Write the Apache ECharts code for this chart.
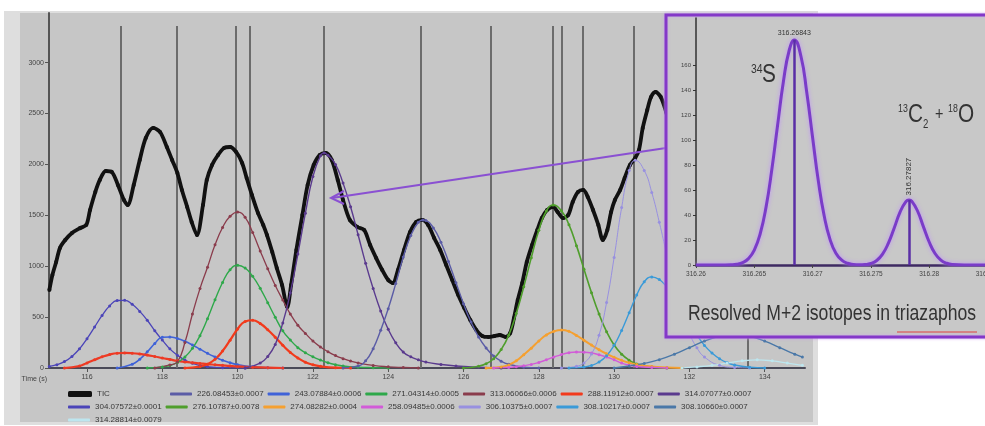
<!DOCTYPE html>
<html><head><meta charset="utf-8">
<script src="https://cdn.jsdelivr.net/npm/echarts@6/dist/echarts.min.js"></script>
<style>html,body{margin:0;padding:0;background:#fff}#c{width:985px;height:426px}</style>
</head><body><div id="c"></div>
<script>
// ---------- main chromatogram ----------
const xTicks = [116,118,120,122,124,126,128,130,132,134];
const yTicks = [0,500,1000,1500,2000,2500,3000];
const markerTimes = [116.9,118.38,119.95,120.31,122.29,124.87,126.73,128.38,128.62,129.16,130.52,133.56];
const markerTop = 3360;

const tic = [[115.0,766],[115.08,913],[115.18,1041],[115.28,1179],[115.42,1257],[115.6,1326],[115.82,1375],[115.98,1405],[116.08,1552],[116.22,1729],[116.34,1847],[116.5,1935],[116.66,1925],[116.82,1798],[116.98,1650],[117.08,1601],[117.24,1798],[117.4,2043],[117.56,2259],[117.76,2358],[117.94,2318],[118.12,2171],[118.26,2043],[118.4,1915],[118.52,1749],[118.66,1582],[118.78,1434],[118.92,1306],[119.08,1601],[119.18,1847],[119.32,1994],[119.48,2092],[119.64,2161],[119.8,2171],[119.96,2122],[120.12,2014],[120.24,1866],[120.38,1699],[120.54,1523],[120.68,1405],[120.78,1306],[120.92,1139],[121.04,982],[121.18,815],[121.32,599],[121.42,815],[121.56,1159],[121.72,1503],[121.86,1798],[122.02,1994],[122.18,2092],[122.34,2112],[122.5,2043],[122.66,1847],[122.8,1650],[122.98,1454],[123.18,1385],[123.36,1356],[123.52,1208],[123.68,1080],[123.84,963],[124.0,864],[124.12,835],[124.26,963],[124.42,1159],[124.58,1336],[124.74,1434],[124.9,1454],[125.06,1405],[125.22,1277],[125.38,1159],[125.54,1012],[125.7,864],[125.86,717],[126.02,589],[126.18,471],[126.34,373],[126.5,314],[126.66,305],[126.82,314],[126.96,324],[127.12,305],[127.24,344],[127.34,491],[127.44,668],[127.56,835],[127.68,1041],[127.82,1208],[127.96,1356],[128.08,1473],[128.22,1552],[128.38,1582],[128.5,1532],[128.64,1473],[128.78,1503],[128.9,1631],[129.04,1729],[129.18,1749],[129.3,1680],[129.44,1552],[129.58,1405],[129.7,1257],[129.82,1356],[129.92,1532],[130.02,1650],[130.16,1749],[130.28,1866],[130.42,1994],[130.56,2063],[130.66,2141],[130.76,2358],[130.88,2534],[130.98,2662],[131.1,2711],[131.24,2662],[131.38,2515],[131.6,2200],[132.0,1650],[132.4,1000],[132.6,700]];

const c304 = [[115.0,15],[115.2,32],[115.4,63],[115.6,114],[115.8,188],[116.0,288],[116.2,402],[116.4,516],[116.6,610],[116.8,663],[117.0,665],[117.2,626],[117.4,556],[117.6,469],[117.8,366],[118.0,274],[118.2,188],[118.4,126],[118.6,78],[118.8,46],[119.0,25],[119.2,13],[119.6,3],[120.2,0]];
const c243 = [[116.8,0],[117.2,37],[117.4,86],[117.6,159],[117.8,241],[118.0,302],[118.2,304],[118.4,289],[118.6,262],[118.8,226],[119.0,185],[119.2,144],[119.4,108],[119.6,76],[119.8,52],[120.0,33],[120.4,12],[120.8,3],[121.2,0]];
const cMinor = [[115.4,0],[115.8,20],[116.0,49],[116.2,80],[116.4,110],[116.6,132],[116.8,145],[117.0,148],[117.2,145],[117.4,138],[117.6,127],[117.8,113],[118.0,98],[118.2,84],[118.4,70],[118.6,60],[118.8,52],[119.0,45],[119.2,38],[119.4,32],[119.6,26],[119.8,20],[120.0,15],[120.4,8],[120.8,3],[121.2,0]];
const c288 = [[118.6,0],[119.0,15],[119.2,38],[119.4,86],[119.6,167],[119.8,273],[120.0,383],[120.2,457],[120.4,469],[120.6,437],[120.8,376],[121.0,302],[121.2,223],[121.4,153],[121.6,98],[121.8,57],[122.0,31],[122.2,16],[122.6,3],[123.0,0]];
const c271 = [[117.6,0],[118.0,10],[118.2,24],[118.4,54],[118.6,107],[118.8,193],[119.0,318],[119.2,484],[119.4,670],[119.6,840],[119.8,965],[120.0,1010],[120.2,982],[120.4,900],[120.6,783],[120.8,642],[121.0,498],[121.2,365],[121.4,275],[121.6,200],[121.8,150],[122.0,110],[122.2,78],[122.4,52],[122.6,33],[122.8,20],[123.2,8],[123.6,3],[124.0,0]];
const c313 = [[117.8,0],[118.2,30],[118.4,60],[118.6,250],[118.8,530],[119.0,780],[119.2,990],[119.4,1210],[119.6,1380],[119.8,1490],[120.0,1532],[120.2,1480],[120.4,1330],[120.6,1150],[120.8,975],[121.0,810],[121.2,668],[121.4,530],[121.6,420],[121.8,340],[122.0,265],[122.2,206],[122.4,160],[122.6,122],[122.8,92],[123.0,68],[123.2,50],[123.6,25],[124.0,12],[124.4,5],[124.8,0]];
const c314a = [[120.2,0],[120.6,49],[120.8,112],[121.0,232],[121.2,443],[121.4,739],[121.6,1119],[121.8,1521],[122.0,1880],[122.2,2085],[122.3,2112],[122.4,2090],[122.6,2000],[122.8,1816],[123.0,1584],[123.2,1309],[123.4,1028],[123.6,781],[123.8,560],[124.0,380],[124.2,247],[124.4,156],[124.6,110],[124.8,80],[125.0,58],[125.4,35],[125.8,20],[126.4,8],[127.0,0]];
const c226 = [[122.8,0],[123.2,20],[123.4,70],[123.6,190],[123.8,372],[124.0,582],[124.2,829],[124.4,1090],[124.6,1301],[124.8,1432],[124.92,1454],[125.0,1450],[125.2,1376],[125.4,1236],[125.6,1047],[125.8,837],[126.0,632],[126.2,451],[126.4,305],[126.6,196],[126.8,118],[127.0,67],[127.2,37],[127.6,8],[128.0,0]];
const c276 = [[126.0,0],[126.4,18],[126.6,42],[126.8,91],[127.0,181],[127.2,321],[127.4,535],[127.6,797],[127.8,1084],[128.0,1352],[128.2,1542],[128.38,1600],[128.6,1544],[128.8,1408],[129.0,1202],[129.2,971],[129.4,739],[129.6,530],[129.8,357],[130.0,226],[130.2,136],[130.4,77],[130.6,40],[131.0,9],[131.4,0]];
const c274 = [[126.6,0],[127.0,10],[127.2,30],[127.4,70],[127.6,130],[127.8,195],[128.0,265],[128.2,325],[128.4,360],[128.6,373],[128.8,360],[129.0,320],[129.2,272],[129.4,225],[129.6,180],[129.8,140],[130.0,105],[130.2,75],[130.4,52],[130.6,35],[131.0,14],[131.4,5],[131.8,0]];
const c258 = [[126.8,0],[127.2,5],[127.4,12],[127.6,22],[127.8,35],[128.0,55],[128.2,80],[128.4,108],[128.6,132],[128.8,150],[129.0,157],[129.2,155],[129.4,147],[129.6,130],[129.8,108],[130.0,80],[130.2,48],[130.4,28],[130.6,15],[131.0,5],[131.4,0]];
const c306 = [[128.6,0],[129.0,17],[129.2,50],[129.4,138],[129.6,322],[129.8,643],[130.0,1086],[130.2,1576],[130.4,1940],[130.56,2040],[130.8,1940],[131.0,1724],[131.2,1432],[131.4,1112],[131.6,800],[131.8,540],[132.0,340],[132.2,198],[132.4,108],[132.8,26],[133.2,5],[133.6,0]];
const c308a = [[128.8,0],[129.2,10],[129.4,25],[129.6,59],[129.8,121],[130.0,223],[130.2,369],[130.4,543],[130.6,717],[130.8,847],[131.0,895],[131.2,869],[131.4,795],[131.6,694],[131.8,568],[132.0,441],[132.2,324],[132.4,222],[132.6,147],[132.8,91],[133.0,53],[133.2,29],[133.6,7],[134.0,0]];
const c308b = [[130.0,0],[130.4,20],[130.8,45],[131.2,82],[131.6,136],[132.0,200],[132.4,264],[132.8,312],[133.2,330],[133.6,312],[134.0,264],[134.4,200],[134.8,136],[135.0,107]];
const c31428 = [[131.8,0],[132.2,11],[132.6,26],[133.0,48],[133.4,70],[133.8,80],[134.2,70],[134.6,48],[135.0,26]];

const legendRow1 = ['226.08453±0.0007','243.07884±0.0006','271.04314±0.0005','313.06066±0.0006','288.11912±0.0007','314.07077±0.0007'];
const legendRow2 = ['304.07572±0.0001','276.10787±0.0078','274.08282±0.0004','258.09485±0.0006','306.10375±0.0007','308.10217±0.0007','308.10660±0.0007'];
const legendRow3 = ['314.28814±0.0079'];

// ---------- inset mass spectrum ----------
const insetXTicks = [316.26,316.265,316.27,316.275,316.28,316.285];
const insetYTicks = [0,20,40,60,80,100,120,140,160];
const insetProfile = [[316.2600,0],[316.2620,0],[316.2630,0.2],[316.2635,0.6],[316.2640,1.9],[316.2645,5.1],[316.2650,11.9],[316.2655,24.8],[316.2660,45.9],[316.2665,76.2],[316.2670,112],[316.2675,147],[316.2680,172],[316.26843,180],[316.2690,167],[316.2695,138],[316.2700,102],[316.2705,66.7],[316.2710,39],[316.2715,20.3],[316.2720,9.4],[316.2725,3.9],[316.2730,1.4],[316.2735,0.5],[316.2740,0.2],[316.2745,0.4],[316.2750,1.2],[316.2755,3.6],[316.2760,8.7],[316.2765,17.5],[316.2770,29.6],[316.2775,42.3],[316.2780,50.7],[316.27827,52],[316.2785,51.1],[316.2790,43.2],[316.2795,30.7],[316.2800,18.4],[316.2805,9.2],[316.2810,3.9],[316.2815,1.4],[316.2820,0.4],[316.2830,0],[316.2850,0]];
const insetPeakMz = [316.26843, 316.27827];
const insetPeakInt = [180, 52];
const insetPeakLabels = ['316.26843', '316.27827'];

// ---------- build ----------
const compSeries = [
  [c304, legendRow2[0], '#4b44b8', 1.3],
  [c243, legendRow1[1], '#3f62d8', 1.6],
  [cMinor, 'minor', '#ee3a24', 2.2],
  [c288, legendRow1[4], '#f23a1c', 2.2],
  [c271, legendRow1[2], '#2ea84a', 1.4],
  [c313, legendRow1[3], '#8a3c4c', 1.3],
  [c314a, legendRow1[5], '#5a3a8e', 1.4],
  [c226, legendRow1[0], '#5b5ca6', 1.4],
  [c276, legendRow2[1], '#4f9e2c', 1.6],
  [c274, legendRow2[2], '#f5a030', 2.0],
  [c258, legendRow2[3], '#d25bd8', 1.4],
  [c306, legendRow2[4], '#9890e0', 1.0],
  [c308a, legendRow2[5], '#3a9ad8', 1.4],
  [c308b, legendRow2[6], '#4a78a8', 1.4],
  [c31428, legendRow3[0], '#bde6ef', 1.4]
];

const FONT = 'Liberation Sans, Arial, sans-serif';

const series = [];
series.push({
  type: 'line', name: 'markers', xAxisIndex: 0, yAxisIndex: 0, data: [], z: 1,
  markLine: {
    silent: true, symbol: 'none', animation: false, z: 1,
    label: {show: false},
    lineStyle: {color: '#6c6c6c', width: 2, type: 'solid'},
    data: markerTimes.map(t => [{coord: [t, 0]}, {coord: [t, markerTop]}])
  }
});
series.push({
  type: 'line', name: 'TIC', xAxisIndex: 0, yAxisIndex: 0, data: tic, smooth: 0.3,
  symbol: 'circle', symbolSize: 4, showSymbol: true, z: 3,
  lineStyle: {color: '#111', width: 3.8}, itemStyle: {color: '#111'}
});
compSeries.forEach(([d, name, color, w]) => {
  series.push({
    type: 'line', name: name, xAxisIndex: 0, yAxisIndex: 0, data: d, smooth: 0.5,
    symbol: 'circle', symbolSize: 3, showSymbol: true, z: 4,
    lineStyle: {color: color, width: w}, itemStyle: {color: color}
  });
});
series.push({
  type: 'line', name: 'inset', xAxisIndex: 1, yAxisIndex: 1, data: insetProfile, smooth: 0.5,
  showSymbol: false, z: 62,
  lineStyle: {color: '#7a3cc8', width: 3, shadowBlur: 4, shadowColor: 'rgba(190,140,255,0.9)'},
  markLine: {
    silent: true, symbol: 'none', animation: false, z: 63,
    lineStyle: {color: '#5a2ea6', width: 2.5, type: 'solid'},
    data: insetPeakMz.map((m, i) => [
      {coord: [m, 0], label: i === 0 ? {show: true, position: 'end', formatter: insetPeakLabels[i], fontSize: 7, color: '#333', fontFamily: FONT, distance: 3} : {show: false}},
      {coord: [m, insetPeakInt[i]]}
    ])
  },
  markPoint: {
    silent: true, z: 63, symbol: 'circle', symbolSize: 1, itemStyle: {color: 'rgba(0,0,0,0)'},
    data: [{coord: [insetPeakMz[1], insetPeakInt[1]], label: {show: true, formatter: insetPeakLabels[1], rotate: 90, position: [0, -4], align: 'left', verticalAlign: 'middle', fontSize: 8, color: '#333', fontFamily: FONT}}]
  }
});

const legendCommon = {
  orient: 'horizontal', padding: 0, itemGap: 4, itemWidth: 22, itemHeight: 3, icon: 'roundRect',
  selectedMode: false,
  textStyle: {fontSize: 8, color: '#383838', fontFamily: FONT, width: 70, overflow: 'truncate'}
};

// wavy underline decoration
const wave = [];
for (let x = 897; x <= 978; x += 2) wave.push([x, 331 + ((x / 2) % 2 === 0 ? -1 : 1)]);

function txt(x, y, s, size, sx) {
  return {type: 'text', z: 70, silent: true, x: x, y: y, scaleX: sx, scaleY: 1,
    style: {x: 0, y: 0, text: s, fontSize: size, fontFamily: FONT, fill: '#333', verticalAlign: 'top'}};
}

const noComma = v => String(v);

const option = {
  animation: false,
  backgroundColor: '#ffffff',
  grid: [
    {left: 49, top: 13, width: 756, height: 355, outerBoundsMode: 'none'},
    {left: 696, top: 18, width: 291.5, height: 247, outerBoundsMode: 'none'}
  ],
  xAxis: [
    {type: 'value', gridIndex: 0, min: 114.99, max: 135.07,
      name: 'Time (s)', nameLocation: 'start', nameGap: 2,
      nameTextStyle: {fontSize: 7, color: '#444', fontFamily: FONT, align: 'right', verticalAlign: 'top', padding: [8, 0, 0, 0]},
      axisLine: {show: true, lineStyle: {color: '#4a4a58', width: 2}},
      axisTick: {show: true, customValues: xTicks, length: 4, lineStyle: {color: '#555'}},
      axisLabel: {customValues: xTicks, formatter: noComma, fontSize: 7, color: '#444', fontFamily: FONT, margin: 6},
      splitLine: {show: false}},
    {type: 'value', gridIndex: 1, min: 316.26, max: 316.285, z: 61,
      axisLine: {show: true, lineStyle: {color: '#3e2a62', width: 2.5}},
      axisTick: {show: true, customValues: insetXTicks, length: 3, lineStyle: {color: '#444'}},
      axisLabel: {customValues: insetXTicks, formatter: noComma, fontSize: 6.5, color: '#444', fontFamily: FONT, margin: 6},
      splitLine: {show: false}}
  ],
  yAxis: [
    {type: 'value', gridIndex: 0, min: 0, max: 3487,
      axisLine: {show: true, lineStyle: {color: '#555', width: 2}},
      axisTick: {show: true, customValues: yTicks, length: 4, lineStyle: {color: '#555'}},
      axisLabel: {customValues: yTicks, formatter: noComma, fontSize: 7, color: '#444', fontFamily: FONT, margin: 5},
      splitLine: {show: false}},
    {type: 'value', gridIndex: 1, min: 0, max: 197.6, z: 61,
      axisLine: {show: true, lineStyle: {color: '#333', width: 1.5}},
      axisTick: {show: true, customValues: insetYTicks, length: 3, lineStyle: {color: '#333'}},
      axisLabel: {customValues: insetYTicks, formatter: noComma, fontSize: 6, color: '#444', fontFamily: FONT, margin: 5},
      splitLine: {show: false}}
  ],
  legend: [
    Object.assign({}, legendCommon, {data: ['TIC'], left: 68, top: 390, itemWidth: 24, itemHeight: 6}),
    Object.assign({}, legendCommon, {data: legendRow1, left: 170, top: 390}),
    Object.assign({}, legendCommon, {data: legendRow2, left: 68, top: 403}),
    Object.assign({}, legendCommon, {data: legendRow3, left: 68, top: 416})
  ],
  graphic: [
    {type: 'rect', z: -99, silent: true, shape: {x: 4, y: 11, width: 814, height: 414}, style: {fill: '#dedede'}},
    {type: 'rect', z: -98, silent: true, shape: {x: 20, y: 13, width: 793, height: 409}, style: {fill: '#c6c6c6'}},
    {type: 'line', z: 45, silent: true, shape: {x1: 666, y1: 148, x2: 332, y2: 198}, style: {stroke: '#8a50d2', lineWidth: 2}},
    {type: 'polyline', z: 45, silent: true, shape: {points: [[344, 191], [331, 198], [344, 204]]}, style: {stroke: '#8a50d2', lineWidth: 2, fill: null}},
    {type: 'rect', z: 50, silent: true, shape: {x: 666, y: 15, width: 330, height: 322}, style: {fill: '#c8c8c8', stroke: '#8438c8', lineWidth: 3, shadowBlur: 3, shadowColor: 'rgba(200,160,240,0.9)'}},
    txt(751, 63, '34', 13, 0.8),
    txt(762, 62, 'S', 26, 0.8),
    txt(898, 103, '13', 11, 0.8),
    txt(908, 102, 'C', 26, 0.8),
    txt(923, 119, '2', 12, 0.8),
    txt(935, 106, '+', 18, 0.8),
    txt(948, 103, '18', 11, 0.8),
    txt(958, 102, 'O', 26, 0.8),
    txt(688, 303, 'Resolved M+2 isotopes in triazaphos', 22, 0.8),
    {type: 'polyline', z: 70, silent: true, shape: {points: wave}, style: {stroke: '#e04040', lineWidth: 1, fill: null}}
  ],
  series: series
};

const chart = echarts.init(document.getElementById('c'), null, {renderer: 'canvas'});
chart.setOption(option);
</script>
</body></html>
